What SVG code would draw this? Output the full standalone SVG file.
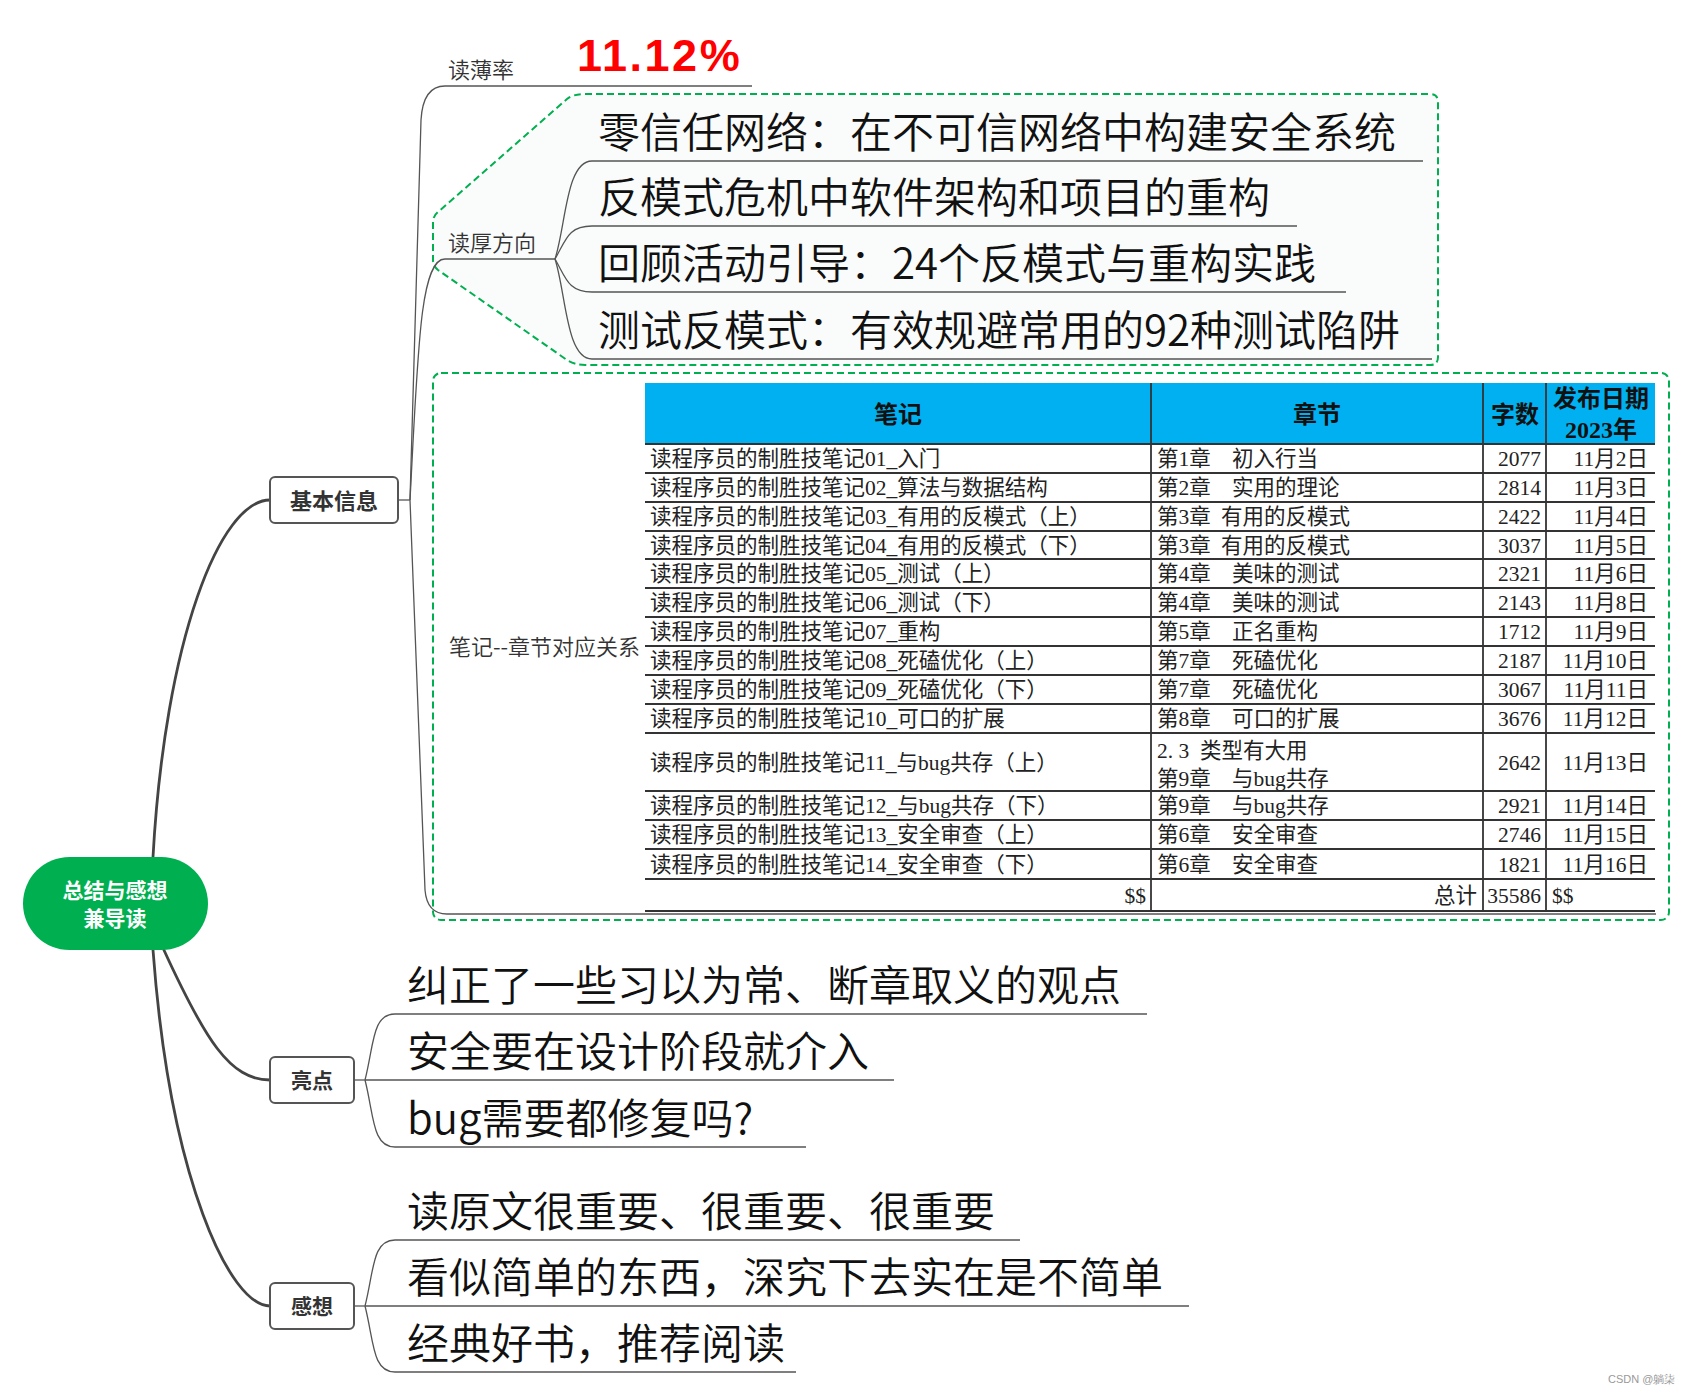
<svg xmlns="http://www.w3.org/2000/svg" width="1691" height="1393" viewBox="0 0 1691 1393">
<style>
.big{font-family:"Noto Sans CJK SC","Noto Sans",sans-serif;font-size:42px;font-weight:350;fill:#111}
.lbl{font-family:"Noto Sans CJK SC","Noto Sans",sans-serif;font-size:22px;font-weight:350;fill:#333}
.ul{fill:none;stroke:#555;stroke-width:1.3}
.br{fill:none;stroke:#555;stroke-width:1.3}
.main{fill:none;stroke:#444;stroke-width:2.8}
.box{fill:#fff;stroke:#555;stroke-width:2}
.bt{font-family:"Noto Sans CJK SC",sans-serif;font-size:21px;font-weight:bold;fill:#333;text-anchor:middle}
.dash{stroke:#00b050;stroke-width:2;stroke-dasharray:7 4}
.tb{font-family:"Liberation Serif","Noto Sans CJK SC",serif;font-size:21.5px;fill:#222}
.th{font-family:"Liberation Serif","Noto Sans CJK SC",serif;font-size:24px;font-weight:bold;fill:#111;text-anchor:middle}
.r{text-anchor:end}
.tl{stroke:#333;stroke-width:1.8}
</style>

<!-- group frames -->
<path class="dash" fill="#fafbfb" d="M585,94 L1430,94 Q1438,94 1438,102 L1438,357 Q1438,365 1430,365 L585,365 Q575,365 567,360 L438,270 Q433,266 433,260 L433,222 Q433,216 438,212 L567,99 Q573,94 585,94 Z"/>
<rect class="dash" fill="#fff" x="433" y="373" width="1236" height="547" rx="8"/>

<!-- connectors -->
<g id="connectors">
  <path class="main" d="M153,857 C165,640 220,500 270,500"/>
  <path class="main" d="M163,948 C205,1040 230,1080 270,1080"/>
  <path class="main" d="M153,950 C170,1180 230,1306 270,1306"/>
  <path class="br" d="M398,500 L410,500"/>
  <path class="br" d="M410,500 L421,120 Q423,86 445,86"/>
  <path class="br" d="M410,500 C418,350 420,259 445,259"/>
  <path class="br" d="M410,500 L425,890 Q427,914 447,914"/>
  <path class="br" d="M555,259 C566,225 566,161 592,161"/>
  <path class="br" d="M555,259 C566,240 568,226 592,226"/>
  <path class="br" d="M555,259 C566,278 568,292 592,292"/>
  <path class="br" d="M555,259 C566,293 566,359 592,359"/>
  <path class="br" d="M354,1080 L365,1080"/>
  <path class="br" d="M365,1080 C374,1045 372,1014 395,1014"/>
  <path class="br" d="M365,1080 C374,1115 372,1147 395,1147"/>
  <path class="br" d="M354,1306 L365,1306"/>
  <path class="br" d="M365,1306 C374,1271 372,1240 395,1240"/>
  <path class="br" d="M365,1306 C374,1341 372,1372 395,1372"/>
</g>

<!-- root -->
<g id="root">
  <rect x="23" y="857" width="185" height="93" rx="46.5" fill="#00b050"/>
  <text class="bt" x="115" y="898" style="fill:#fff">总结与感想</text>
  <text class="bt" x="115" y="926" style="fill:#fff">兼导读</text>
</g>

<g id="jibenxinxi">
  <rect class="box" x="270" y="477" width="128" height="46" rx="5"/>
  <text class="bt" x="334" y="508.5" style="font-size:22px">基本信息</text>
</g>
<g id="liangdian">
  <rect class="box" x="270" y="1057" width="84" height="46" rx="5"/>
  <text class="bt" x="312" y="1088">亮点</text>
</g>
<g id="ganxiang">
  <rect class="box" x="270" y="1283" width="84" height="46" rx="5"/>
  <text class="bt" x="312" y="1314">感想</text>
</g>

<g id="dubaolv">
  <text class="lbl" x="448" y="78">读薄率</text>
  <text x="577" y="71" font-family="Liberation Sans, Arial, sans-serif" font-size="45" font-weight="bold" fill="#ff0000" letter-spacing="2.5">11.12%</text>
  <line class="ul" x1="445" y1="86" x2="752" y2="86"/>
</g>

<g id="duhou">
  <text class="lbl" x="448" y="251">读厚方向</text>
  <line class="ul" x1="445" y1="259" x2="555" y2="259"/>
</g>
<g id="duhou1">
  <text class="big" x="598" y="148">零信任网络：在不可信网络中构建安全系统</text>
  <line class="ul" x1="592" y1="161" x2="1423" y2="161"/>
</g>
<g id="duhou2">
  <text class="big" x="598" y="213">反模式危机中软件架构和项目的重构</text>
  <line class="ul" x1="592" y1="226" x2="1297" y2="226"/>
</g>
<g id="duhou3">
  <text class="big" x="598" y="279">回顾活动引导：24个反模式与重构实践</text>
  <line class="ul" x1="592" y1="292" x2="1346" y2="292"/>
</g>
<g id="duhou4">
  <text class="big" x="598" y="346">测试反模式：有效规避常用的92种测试陷阱</text>
  <line class="ul" x1="592" y1="359" x2="1432" y2="359"/>
</g>

<g id="biji">
  <text class="lbl" x="449" y="655">笔记--章节对应关系</text>
  <line class="ul" x1="447" y1="914" x2="1656" y2="914"/>
  <rect x="645" y="383" width="1010" height="61" fill="#00b0f0"/>
  <g class="tl">
    <line x1="645" y1="444" x2="1655" y2="444"/>
    <line x1="645" y1="473" x2="1655" y2="473"/>
    <line x1="645" y1="502" x2="1655" y2="502"/>
    <line x1="645" y1="531" x2="1655" y2="531"/>
    <line x1="645" y1="559" x2="1655" y2="559"/>
    <line x1="645" y1="588" x2="1655" y2="588"/>
    <line x1="645" y1="617" x2="1655" y2="617"/>
    <line x1="645" y1="646" x2="1655" y2="646"/>
    <line x1="645" y1="675" x2="1655" y2="675"/>
    <line x1="645" y1="704" x2="1655" y2="704"/>
    <line x1="645" y1="733" x2="1655" y2="733"/>
    <line x1="645" y1="791" x2="1655" y2="791"/>
    <line x1="645" y1="820" x2="1655" y2="820"/>
    <line x1="645" y1="849" x2="1655" y2="849"/>
    <line x1="645" y1="879" x2="1655" y2="879"/>
    <line x1="645" y1="911" x2="1655" y2="911"/>
    <line x1="1151" y1="383" x2="1151" y2="911"/>
    <line x1="1483" y1="383" x2="1483" y2="911"/>
    <line x1="1546" y1="383" x2="1546" y2="911"/>
  </g>
  <text class="th" x="898" y="423">笔记</text>
  <text class="th" x="1317" y="423">章节</text>
  <text class="th" x="1515" y="423">字数</text>
  <text class="th" x="1601" y="407">发布日期</text>
  <text class="th" x="1601" y="438">2023年</text>

  <g class="tb">
    <text x="650" y="466">读程序员的制胜技笔记01_入门</text>
    <text x="650" y="495">读程序员的制胜技笔记02_算法与数据结构</text>
    <text x="650" y="524">读程序员的制胜技笔记03_有用的反模式（上）</text>
    <text x="650" y="552.5">读程序员的制胜技笔记04_有用的反模式（下）</text>
    <text x="650" y="581">读程序员的制胜技笔记05_测试（上）</text>
    <text x="650" y="610">读程序员的制胜技笔记06_测试（下）</text>
    <text x="650" y="639">读程序员的制胜技笔记07_重构</text>
    <text x="650" y="668">读程序员的制胜技笔记08_死磕优化（上）</text>
    <text x="650" y="697">读程序员的制胜技笔记09_死磕优化（下）</text>
    <text x="650" y="726">读程序员的制胜技笔记10_可口的扩展</text>
    <text x="650" y="769.5">读程序员的制胜技笔记11_与bug共存（上）</text>
    <text x="650" y="813">读程序员的制胜技笔记12_与bug共存（下）</text>
    <text x="650" y="842">读程序员的制胜技笔记13_安全审查（上）</text>
    <text x="650" y="871.5">读程序员的制胜技笔记14_安全审查（下）</text>
    <text class="r" x="1146" y="902.5">$$</text>

    <text x="1157" y="466">第1章<tspan x="1232">初入行当</tspan></text>
    <text x="1157" y="495">第2章<tspan x="1232">实用的理论</tspan></text>
    <text x="1157" y="524">第3章<tspan x="1221">有用的反模式</tspan></text>
    <text x="1157" y="552.5">第3章<tspan x="1221">有用的反模式</tspan></text>
    <text x="1157" y="581">第4章<tspan x="1232">美味的测试</tspan></text>
    <text x="1157" y="610">第4章<tspan x="1232">美味的测试</tspan></text>
    <text x="1157" y="639">第5章<tspan x="1232">正名重构</tspan></text>
    <text x="1157" y="668">第7章<tspan x="1232">死磕优化</tspan></text>
    <text x="1157" y="697">第7章<tspan x="1232">死磕优化</tspan></text>
    <text x="1157" y="726">第8章<tspan x="1232">可口的扩展</tspan></text>
    <text x="1157" y="757.5">2. 3<tspan x="1200">类型有大用</tspan></text>
    <text x="1157" y="785.5">第9章<tspan x="1232">与bug共存</tspan></text>
    <text x="1157" y="813">第9章<tspan x="1232">与bug共存</tspan></text>
    <text x="1157" y="842">第6章<tspan x="1232">安全审查</tspan></text>
    <text x="1157" y="871.5">第6章<tspan x="1232">安全审查</tspan></text>
    <text class="r" x="1477" y="902.5">总计</text>

    <text class="r" x="1541" y="466">2077</text>
    <text class="r" x="1541" y="495">2814</text>
    <text class="r" x="1541" y="524">2422</text>
    <text class="r" x="1541" y="552.5">3037</text>
    <text class="r" x="1541" y="581">2321</text>
    <text class="r" x="1541" y="610">2143</text>
    <text class="r" x="1541" y="639">1712</text>
    <text class="r" x="1541" y="668">2187</text>
    <text class="r" x="1541" y="697">3067</text>
    <text class="r" x="1541" y="726">3676</text>
    <text class="r" x="1541" y="769.5">2642</text>
    <text class="r" x="1541" y="813">2921</text>
    <text class="r" x="1541" y="842">2746</text>
    <text class="r" x="1541" y="871.5">1821</text>
    <text class="r" x="1541" y="902.5">35586</text>

    <text class="r" x="1648" y="466">11月2日</text>
    <text class="r" x="1648" y="495">11月3日</text>
    <text class="r" x="1648" y="524">11月4日</text>
    <text class="r" x="1648" y="552.5">11月5日</text>
    <text class="r" x="1648" y="581">11月6日</text>
    <text class="r" x="1648" y="610">11月8日</text>
    <text class="r" x="1648" y="639">11月9日</text>
    <text class="r" x="1648" y="668">11月10日</text>
    <text class="r" x="1648" y="697">11月11日</text>
    <text class="r" x="1648" y="726">11月12日</text>
    <text class="r" x="1648" y="769.5">11月13日</text>
    <text class="r" x="1648" y="813">11月14日</text>
    <text class="r" x="1648" y="842">11月15日</text>
    <text class="r" x="1648" y="871.5">11月16日</text>
    <text x="1552" y="902.5">$$</text>
  </g>
</g>

<g id="ld1">
  <text class="big" x="407" y="1001">纠正了一些习以为常、断章取义的观点</text>
  <line class="ul" x1="395" y1="1014" x2="1147" y2="1014"/>
</g>
<g id="ld2">
  <text class="big" x="407" y="1067">安全要在设计阶段就介入</text>
  <line class="ul" x1="365" y1="1080" x2="894" y2="1080"/>
</g>
<g id="ld3">
  <text class="big" x="407" y="1134">bug需要都修复吗?</text>
  <line class="ul" x1="395" y1="1147" x2="806" y2="1147"/>
</g>
<g id="gx1">
  <text class="big" x="407" y="1227">读原文很重要、很重要、很重要</text>
  <line class="ul" x1="395" y1="1240" x2="1020" y2="1240"/>
</g>
<g id="gx2">
  <text class="big" x="407" y="1293">看似简单的东西，深究下去实在是不简单</text>
  <line class="ul" x1="365" y1="1306" x2="1189" y2="1306"/>
</g>
<g id="gx3">
  <text class="big" x="407" y="1359">经典好书，推荐阅读</text>
  <line class="ul" x1="395" y1="1372" x2="796" y2="1372"/>
</g>

<text x="1608" y="1383" font-family="Liberation Sans, Arial, sans-serif" font-size="11" fill="#999">CSDN @躺柒</text>
</svg>
